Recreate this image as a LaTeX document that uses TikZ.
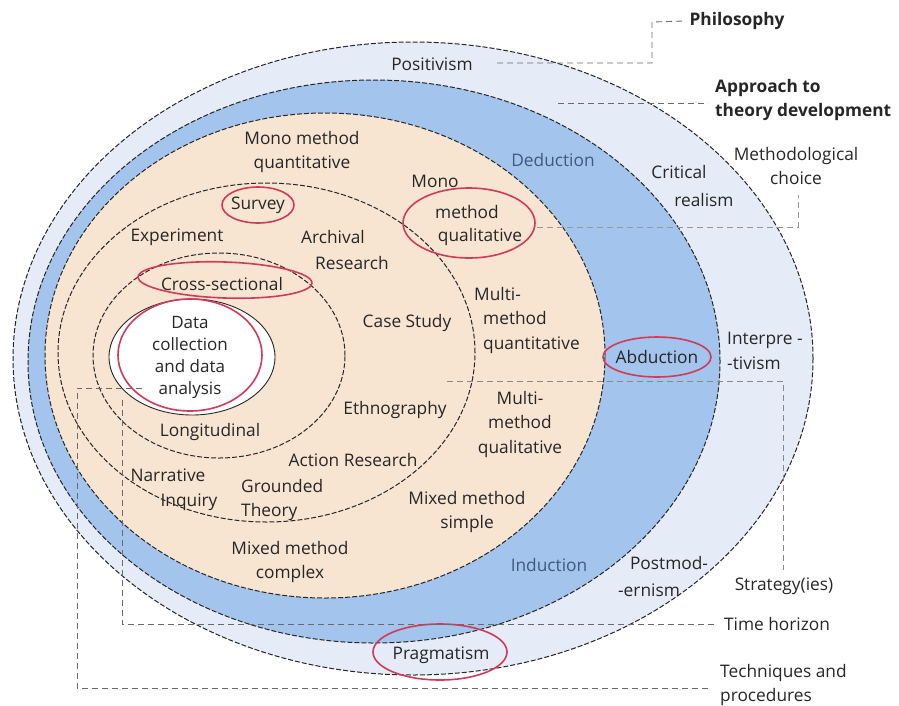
\documentclass[tikz,border=0pt]{standalone}
\usepackage{fontspec}
\setmainfont{Open Sans}
\usetikzlibrary{shapes.geometric}
\definecolor{philfill}{HTML}{E5EBF7}
\definecolor{apprfill}{HTML}{A3C4EC}
\definecolor{methfill}{HTML}{F7E5D2}
\definecolor{ringred}{HTML}{D23A5A}
\definecolor{ink}{HTML}{262626}
\definecolor{blueink}{HTML}{3D5A80}
\definecolor{leadgray}{HTML}{6A6A6A}
\tikzset{
  layer/.style={ellipse, draw=black!85, line width=1pt, inner sep=0pt,
    dash pattern=on 5pt off 2pt},
  hilite/.style={ellipse, draw=ringred, line width=1.6pt, inner sep=0pt},
  lead/.style={draw=leadgray, line width=0.9pt, dash pattern=on 6pt off 4pt},
  lbl/.style={text=ink, font=\fontsize{17.3}{24.5}\selectfont, align=center, inner sep=1pt},
  keylbl/.style={lbl, font=\fontsize{17.3}{24.5}\selectfont\bfseries},
}
\begin{document}
\begin{tikzpicture}[x=1pt, y=-1pt]
\useasboundingbox (0,0) rectangle (899,705);

% onion layers, outside in
\node[layer, fill=philfill, minimum width=800pt, minimum height=633pt] (philring) at (413,358.5) {};
\node[layer, fill=apprfill, minimum width=692pt, minimum height=563pt] (apprring) at (374,361.5) {};
\node[layer, fill=methfill, minimum width=560pt, minimum height=485pt] (methring) at (325,355.5) {};
\node[layer, minimum width=417pt, minimum height=339pt] (stratring) at (266.5,352.5) {};
\node[layer, minimum width=252pt, minimum height=205pt] (timering) at (219,355.5) {};
\node[ellipse, draw=black!85, line width=0.9pt, fill=white, inner sep=0pt,
  minimum width=166pt, minimum height=116pt] (corering) at (192,357) {};

% highlighted choices
\node[hilite, minimum width=72pt, minimum height=36pt] (hsurvey) at (258,205) {};
\node[hilite, minimum width=132pt, minimum height=70pt] (hmonoqual) at (469,223) {};
\node[hilite, minimum width=174pt, minimum height=36pt, rotate=-2] (hcross) at (225,280) {};
\node[hilite, minimum width=144pt, minimum height=112pt] (hdata) at (190,355) {};
\node[hilite, minimum width=108pt, minimum height=40pt] (habd) at (657,357) {};
\node[hilite, minimum width=134pt, minimum height=56pt] (hprag) at (440,652) {};

% layer captions
\node[keylbl] (phil) at (737,21) {Philosophy};
\node[keylbl, align=left, anchor=west] (appr) at (714,100) {Approach to\\theory development};
\node[lbl] (meth) at (796,166) {Methodological\\choice};
\node[lbl] (strat) at (784,586) {Strategy(ies)};
\node[lbl] (time) at (777,624) {Time horizon};
\node[lbl, align=left, anchor=west] (tech) at (719,685) {Techniques and\\procedures};

% leader lines from the layers to their captions
\coordinate (philS) at (497,63);
\coordinate (philK) at (652,22);
\draw[lead] (philS) -| (philK) -- ([xshift=-4pt]phil.west);
\coordinate (apprS) at (558,103);
\draw[lead, shorten >=6pt] (apprS) -- (apprS -| appr.west);
\coordinate (methS) at (537,227);
\coordinate (methK) at (798,195);
\draw[lead, draw=leadgray!70] (methS) -| (methK);
\coordinate (stratS) at (447,381);
\coordinate (stratK) at (783,570);
\draw[lead, draw=leadgray!80] (stratS) -| (stratK);
\coordinate (timeS) at (122,400);
\draw[lead, shorten >=8pt] (timeS) |- (time.west);
\coordinate (techS) at (142,388);
\coordinate (techK) at (77,688);
\draw[lead, shorten >=8pt] (techS) -| (techK) -- (techK -| tech.west);

% philosophies
\node[lbl] (positivism) at (432,64) {Positivism};
\node[lbl] (crit1) at (679,172) {Critical};
\node[lbl] (crit2) at (704,200) {realism};
\node[lbl, align=left, anchor=west] (interp) at (726,351) {Interpre -\\-tivism};
\node[lbl] (post1) at (669,563) {Postmod-};
\node[lbl] (post2) at (649,590) {-ernism};
\node[lbl] (pragmatism) at (441,655) {Pragmatism};

% approaches
\node[lbl, text=blueink] (deduction) at (553,160) {Deduction};
\node[lbl] (abduction) at (657,357) {Abduction};
\node[lbl, text=blueink] (induction) at (549,565) {Induction};

% methodological choices
\node[lbl] (monoquant) at (302,152) {Mono method\\quantitative};
\node[lbl] (mono1) at (435,181) {Mono};
\node[lbl] (mono2) at (467,212) {method};
\node[lbl] (mono3) at (480,237) {qualitative};
\node[lbl, align=left, anchor=west] (multiquant) at (482,320) {\hspace*{-9pt}Multi-\\method\\quantitative};
\node[lbl] (multiqual) at (520,424) {Multi-\\method\\qualitative};
\node[lbl] (mixsimple) at (467,512) {Mixed method\\simple};
\node[lbl] (mixcomplex) at (290,562) {Mixed method\\complex};

% strategies
\node[lbl] (survey) at (258,205) {Survey};
\node[lbl] (experiment) at (177,237) {Experiment};
\node[lbl] (arch1) at (333,237) {Archival};
\node[lbl] (arch2) at (352,263) {Research};
\node[lbl] (casestudy) at (407,323) {Case Study};
\node[lbl] (ethno) at (395,410) {Ethnography};
\node[lbl] (action) at (353,460) {Action Research};
\node[lbl] (narr1) at (168,475) {Narrative};
\node[lbl] (narr2) at (189,502) {Inquiry};
\node[lbl, align=left, anchor=west] (grounded) at (240,500) {Grounded\\Theory};

% time horizons
\node[lbl] (cross) at (222,284) {Cross-sectional};
\node[lbl] (longit) at (210,432) {Longitudinal};

% techniques and procedures
\node[lbl, font=\fontsize{17}{22}\selectfont] (datacore) at (190,357) {Data\\collection\\and data\\analysis};
\end{tikzpicture}
\end{document}
